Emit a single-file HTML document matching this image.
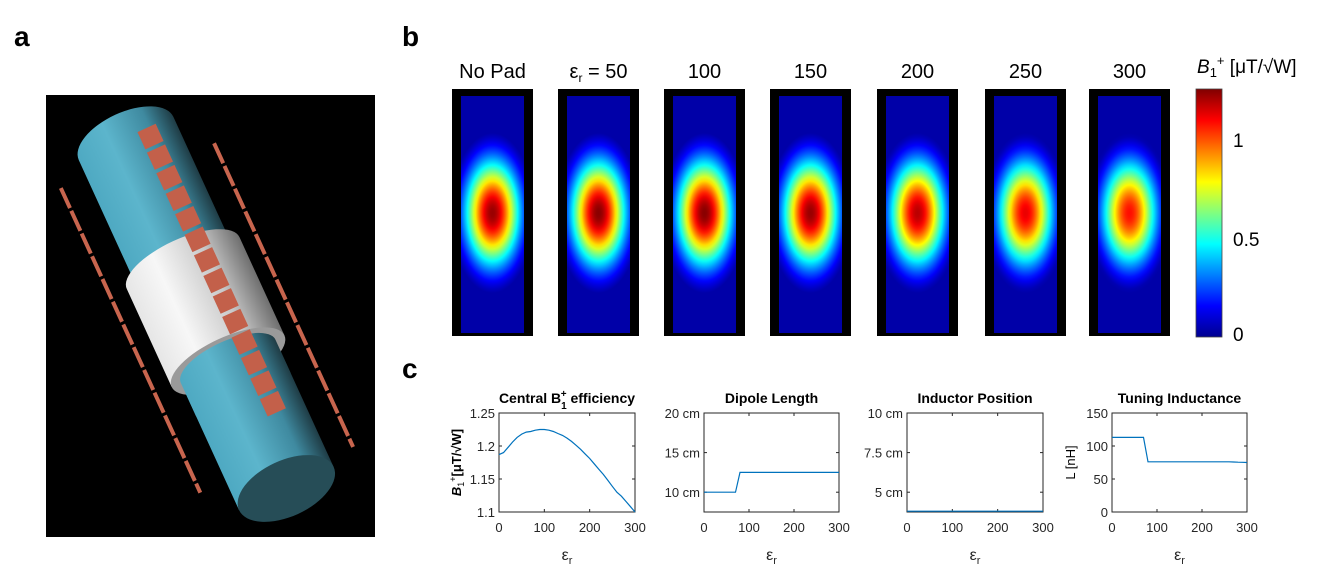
<!DOCTYPE html>
<html><head><meta charset="utf-8"><style>
html,body{margin:0;padding:0;background:#fff;}
svg{display:block;font-family:"Liberation Sans",sans-serif;}
</style></head><body>
<svg id="fig" width="1334" height="585" viewBox="0 0 1334 585" xmlns="http://www.w3.org/2000/svg">
<defs>
<linearGradient id="cylG" x1="0" x2="1" y1="0" y2="0">
<stop offset="0" stop-color="#4ea9c2"/><stop offset="0.35" stop-color="#5cb5cc"/><stop offset="0.75" stop-color="#3f8aa0"/><stop offset="1" stop-color="#1f3c45"/></linearGradient>
<linearGradient id="ringG" x1="0" x2="1" y1="0" y2="0">
<stop offset="0" stop-color="#e6e6e6"/><stop offset="0.3" stop-color="#f7f7f7"/><stop offset="0.7" stop-color="#c9c9c9"/><stop offset="1" stop-color="#6f6f6f"/></linearGradient>
<linearGradient id="cbarG" x1="0" x2="0" y1="1" y2="0">
<stop offset="0" stop-color="#00008f"/><stop offset="0.125" stop-color="#0000ff"/><stop offset="0.375" stop-color="#00ffff"/><stop offset="0.625" stop-color="#ffff00"/><stop offset="0.875" stop-color="#ff0000"/><stop offset="1" stop-color="#800000"/></linearGradient>
</defs>
<text x="14" y="46" font-size="28" font-weight="bold">a</text>
<text x="402" y="46" font-size="28" font-weight="bold">b</text>
<text x="402" y="378" font-size="28" font-weight="bold">c</text>

<g>
<rect x="46" y="95" width="329" height="442" fill="#000"/>
<g transform="translate(206,313) rotate(-24.6)">
<g><line x1="-80" y1="-174" x2="-80" y2="161" stroke="#c8654e" stroke-width="4" stroke-dasharray="22 3"/></g>
<g><line x1="78" y1="-151" x2="78" y2="183" stroke="#c8654e" stroke-width="4" stroke-dasharray="22 3"/></g>
<g>
<path d="M-52 -192 A52 26 0 0 1 52 -192 L52 193 L-52 193 Z" fill="url(#cylG)"/>
<ellipse cx="0" cy="193" rx="52" ry="28" fill="#264d57"/>
</g>
<g>
<path d="M-62 -55 A62 24 0 0 1 62 -55 L62 53 L-62 53 Z" fill="url(#ringG)"/>
<ellipse cx="0" cy="53" rx="62" ry="24" fill="#9a9a9a"/>
<path d="M-52 53 A52 20 0 0 1 52 53 L52 90 L-52 90 Z" fill="url(#cylG)"/>
</g>
<g><line x1="23" y1="-193" x2="23" y2="123" stroke="#c3604a" stroke-width="20" stroke-dasharray="19 3.6"/></g>
</g>
</g>

<g id="maps"></g>

<g>
<rect x="1196" y="89" width="26" height="248" fill="url(#cbarG)" stroke="#444" stroke-width="0.8"/>
<text x="1197" y="73" font-size="19"><tspan font-style="italic">B</tspan><tspan font-size="13" dy="4">1</tspan><tspan font-size="13" dy="-12">+</tspan><tspan dy="8"> [μT/√W]</tspan></text>
<text x="1233" y="147" font-size="19">1</text>
<text x="1233" y="246" font-size="19">0.5</text>
<text x="1233" y="341" font-size="19">0</text>
</g>

<g id="charts"></g>
</svg>
<script>
const mapTitles = ["No Pad","εr = 50","100","150","200","250","300"];
const mapPeaks = [1.22,1.24,1.24,1.22,1.18,1.12,1.08];
const mapLefts = [452,558,664,770,877,985,1089];

const epsX = [0,10,20,30,40,50,60,70,80,90,100,110,120,130,140,150,160,170,180,190,200,210,220,230,240,250,260,270,280,290,300];
const b1Vals = [1.187,1.19,1.198,1.206,1.213,1.218,1.221,1.222,1.224,1.225,1.225,1.224,1.222,1.219,1.216,1.212,1.207,1.201,1.195,1.188,1.181,1.173,1.165,1.157,1.148,1.139,1.13,1.124,1.116,1.108,1.1];
const dipoleVals = [10,10,10,10,10,10,10,10,12.5,12.5,12.5,12.5,12.5,12.5,12.5,12.5,12.5,12.5,12.5,12.5,12.5,12.5,12.5,12.5,12.5,12.5,12.5,12.5,12.5,12.5,12.5];
const inductorVals = [3.8,3.8,3.8,3.8,3.8,3.8,3.8,3.8,3.8,3.8,3.8,3.8,3.8,3.8,3.8,3.8,3.8,3.8,3.8,3.8,3.8,3.8,3.8,3.8,3.8,3.8,3.8,3.8,3.8,3.8,3.8];
const inductanceVals = [113,113,113,113,113,113,113,113,76,76,76,76,76,76,76,76,76,76,76,76,76,76,76,76,76,76,76,75.8,75.5,75.3,75];
const xTicks = [0,100,200,300];
const b1Ticks = [1.1,1.15,1.2,1.25];
const b1TickLabels = ["1.1","1.15","1.2","1.25"];
const dipTicks = [10,15,20];
const dipTickLabels = ["10 cm","15 cm","20 cm"];
const indTicks = [5,7.5,10];
const indTickLabels = ["5 cm","7.5 cm","10 cm"];
const lTicks = [0,50,100,150];
const lTickLabels = ["0","50","100","150"];

const NS="http://www.w3.org/2000/svg";
function mk(tag,attrs,parent){const e=document.createElementNS(NS,tag);for(const k in attrs)e.setAttribute(k,attrs[k]);if(parent)parent.appendChild(e);return e;}
function jet(t){t=Math.max(0,Math.min(1,t));const c=v=>Math.round(255*Math.max(0,Math.min(1,v)));
return `rgb(${c(1.5-Math.abs(4*t-3))},${c(1.5-Math.abs(4*t-2))},${c(1.5-Math.abs(4*t-1))})`;}

const svg=document.getElementById('fig');
const defs=svg.querySelector('defs');
const maps=document.getElementById('maps');
mapTitles.forEach((t,i)=>{
  const x=mapLefts[i], w=81, y=89, h=247;
  const g=mk('g',{},maps);
  
  
  const title=mk('text',{x:x+w/2,y:78,'font-size':20,'text-anchor':'middle'},g);
  if(t.startsWith('εr')){title.innerHTML='ε<tspan font-size="12" dy="4">r</tspan><tspan dy="-4"> = 50</tspan>';}
  else title.textContent=t;
  
  
  mk('rect',{x:x,y:y,width:w,height:h,fill:'#000'},g);
  const peak=mapPeaks[i];
  const gid='rg'+i;
  const cx=x+w/2;
  const rg=mk('radialGradient',{id:gid,gradientUnits:'userSpaceOnUse',cx:cx,cy:213,r:100,gradientTransform:`translate(${cx} 213) scale(0.42 0.8) translate(${-cx} -213)`},defs);
  for(let k=0;k<=20;k++){const r=k/20;const v=-0.07+(peak+0.07)*Math.exp(-2.4*r*r);
    mk('stop',{offset:r,'stop-color':jet(Math.max(0.04,v/1.25))},rg);}
  mk('rect',{x:x+9,y:y+7,width:w-18,height:h-10,fill:`url(#${gid})`},g);
});

const charts=document.getElementById('charts');
function chart(name,title,x0,w,vals,ymin,ymax,ticks,labels,ylab,hasSub){
  const y0=413,h=99;
  const g=mk('g',{},charts);
  
  
  const sx=v=>x0+v/300*w, sy=v=>y0+h-(v-ymin)/(ymax-ymin)*h;
  mk('rect',{x:x0,y:y0,width:w,height:h,fill:'#fff',stroke:'#262626','stroke-width':1},g);
  xTicks.forEach(v=>{
    mk('line',{x1:sx(v),x2:sx(v),y1:y0+h,y2:y0+h-3,stroke:'#262626'},g);
    mk('line',{x1:sx(v),x2:sx(v),y1:y0,y2:y0+3,stroke:'#262626'},g);
    const tx=mk('text',{x:sx(v),y:y0+h+20,'font-size':13,'text-anchor':'middle',fill:'#262626'},g);tx.textContent=v;
    
    
  });
  ticks.forEach((v,j)=>{
    mk('line',{x1:x0,x2:x0+3,y1:sy(v),y2:sy(v),stroke:'#262626'},g);
    mk('line',{x1:x0+w,x2:x0+w-3,y1:sy(v),y2:sy(v),stroke:'#262626'},g);
    const tx=mk('text',{x:x0-4,y:sy(v)+5,'font-size':13,'text-anchor':'end',fill:'#262626'},g);tx.textContent=labels[j];
    
    
  });
  const d=epsX.map((v,k)=>(k?'L':'M')+sx(v).toFixed(1)+' '+sy(vals[k]).toFixed(1)).join(' ');
  const p=mk('path',{d:d,fill:'none',stroke:'#0072bd','stroke-width':1.2},g);
  
  
  const tt=mk('text',{x:x0+w/2,y:y0-10,'font-size':14,'font-weight':'bold','text-anchor':'middle'},g);
  if(hasSub) tt.innerHTML='Central B<tspan font-size="10" dy="6">1</tspan><tspan font-size="10" dx="-6" dy="-12">+</tspan><tspan dy="6"> efficiency</tspan>';
  else tt.textContent=title;
  
  
  const xl=mk('text',{x:x0+w/2,y:y0+h+48,'font-size':16,'text-anchor':'middle',fill:'#262626'},g);
  xl.innerHTML='ε<tspan font-size="11" dy="4">r</tspan>';
  
  
  if(ylab){const yl=mk('text',{x:0,y:0,'font-size':13,'text-anchor':'middle',transform:`translate(${ylab[0]},${y0+h/2}) rotate(-90)`,fill:'#000'},g);
    yl.innerHTML=ylab[1];
    
    }
}
chart('chart-b1-efficiency','Central B1+ efficiency',499,136,b1Vals,1.1,1.25,b1Ticks,b1TickLabels,[461,'<tspan font-style="italic" font-weight="bold">B</tspan><tspan font-size="9" dy="3">1</tspan><tspan font-size="9" dy="-8">+</tspan><tspan dy="5" font-weight="bold">[μT/√W]</tspan>'],true);
chart('chart-dipole-length','Dipole Length',704,135,dipoleVals,7.5,20,dipTicks,dipTickLabels,null,false);
chart('chart-inductor-position','Inductor Position',907,136,inductorVals,3.75,10,indTicks,indTickLabels,null,false);
chart('chart-tuning-inductance','Tuning Inductance',1112,135,inductanceVals,0,150,lTicks,lTickLabels,[1075,'L [nH]'],false);
</script>
</body></html>
